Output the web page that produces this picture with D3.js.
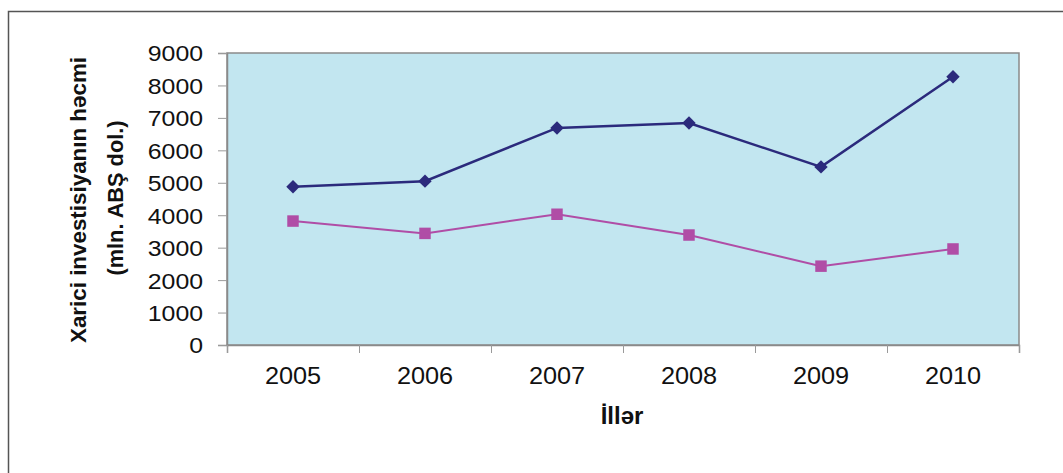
<!DOCTYPE html>
<html>
<head>
<meta charset="utf-8">
<script src="https://cdn.jsdelivr.net/npm/d3@7"></script>
<style>
  body { margin: 0; background: #fff; }
  text { font-family: "Liberation Sans", Arial, sans-serif; fill: #111; }
</style>
</head>
<body>
<div class="chart"></div>
<script>

var years = ["2005", "2006", "2007", "2008", "2009", "2010"];
var seriesTop = [4880, 5050, 6690, 6840, 5490, 8270];
var seriesBottom = [3820, 3440, 4030, 3390, 2430, 2960];
var yTicks = [0, 1000, 2000, 3000, 4000, 5000, 6000, 7000, 8000, 9000];

var svgWidth = 1063;
var svgHeight = 473;

var margin = { top: 53, right: 44, bottom: 128, left: 227 };

var width = svgWidth - margin.left - margin.right;
var height = svgHeight - margin.top - margin.bottom;

var svg = d3.select(".chart")
    .append("svg")
    .attr("width", svgWidth)
    .attr("height", svgHeight);

// outer frame (only top and left visible)
svg.append("rect")
    .attr("x", 8.5)
    .attr("y", 11.5)
    .attr("width", 1200)
    .attr("height", 600)
    .attr("fill", "none")
    .attr("stroke", "#555")
    .attr("stroke-width", 1.5);

var chartGroup = svg.append("g")
    .attr("transform", `translate(${margin.left}, ${margin.top})`);

var xBand = d3.scaleBand()
    .domain(years)
    .range([0, width]);

var xEdge = d3.scaleLinear()
    .domain([0, years.length])
    .range([0, width]);

var yLinearScale = d3.scaleLinear()
    .domain([0, 9000])
    .range([height, 0]);

// plot background
chartGroup.append("rect")
    .attr("width", width)
    .attr("height", height)
    .attr("fill", "#c2e6f0")
    .attr("stroke", "#8a8a8a")
    .attr("stroke-width", 1.5);

// left axis
var leftAxis = chartGroup.append("g")
    .call(d3.axisLeft(yLinearScale).tickValues(yTicks).tickSize(9).tickFormat(d3.format("d")));
leftAxis.select(".domain").attr("stroke", "#8a8a8a").attr("stroke-width", 1.5);
leftAxis.selectAll(".tick line").attr("stroke", "#9a9a9a");
leftAxis.selectAll(".tick text")
    .attr("x", -21.2)
    .attr("dy", "0.36em")
    .attr("transform", "scale(1.13,1)")
    .style("font-size", "22px")
    .style("font-family", "Liberation Sans, Arial, sans-serif")
    .attr("fill", "#111");

// bottom axis: ticks at category edges
var edgeAxis = chartGroup.append("g")
    .attr("transform", `translate(0, ${height})`)
    .call(d3.axisBottom(xEdge).ticks(years.length).tickSize(8).tickFormat(""));
edgeAxis.select(".domain").attr("stroke", "#8a8a8a").attr("stroke-width", 1.5);
edgeAxis.selectAll(".tick line").attr("stroke", "#9a9a9a");

// bottom axis: labels at category centers
var labelAxis = chartGroup.append("g")
    .attr("transform", `translate(0, ${height})`)
    .call(d3.axisBottom(xBand).tickSize(0).tickPadding(23));
labelAxis.select(".domain").remove();
labelAxis.selectAll(".tick text")
    .attr("transform", "scale(1.1,1)")
    .style("font-size", "23px")
    .style("font-family", "Liberation Sans, Arial, sans-serif")
    .attr("fill", "#111");

var line = d3.line()
    .x((d, i) => xBand(years[i]) + xBand.bandwidth() / 2)
    .y(d => yLinearScale(d));

chartGroup.append("path")
    .datum(seriesTop)
    .attr("d", line)
    .attr("fill", "none")
    .attr("stroke", "#2b2a7c")
    .attr("stroke-width", 2.5);

chartGroup.append("path")
    .datum(seriesBottom)
    .attr("d", line)
    .attr("fill", "none")
    .attr("stroke", "#b04da6")
    .attr("stroke-width", 2);

chartGroup.selectAll(".diamond")
    .data(seriesTop)
    .enter()
    .append("path")
    .attr("class", "diamond")
    .attr("d", d3.symbol().type(d3.symbolSquare).size(90))
    .attr("transform", (d, i) => `translate(${xBand(years[i]) + xBand.bandwidth() / 2}, ${yLinearScale(d)}) rotate(45)`)
    .attr("fill", "#2b2a7c");

chartGroup.selectAll(".square")
    .data(seriesBottom)
    .enter()
    .append("path")
    .attr("class", "square")
    .attr("d", d3.symbol().type(d3.symbolSquare).size(132))
    .attr("transform", (d, i) => `translate(${xBand(years[i]) + xBand.bandwidth() / 2}, ${yLinearScale(d)})`)
    .attr("fill", "#b04da6");

// axis titles
svg.append("text")
    .attr("transform", "translate(86, 200) rotate(-90)")
    .attr("text-anchor", "middle")
    .style("font-size", "22px")
    .style("font-weight", "bold")
    .attr("textLength", 286)
    .attr("lengthAdjust", "spacingAndGlyphs")
    .text("Xarici investisiyanın həcmi");

svg.append("text")
    .attr("transform", "translate(123, 198) rotate(-90)")
    .attr("text-anchor", "middle")
    .style("font-size", "22px")
    .style("font-weight", "bold")
    .attr("textLength", 155)
    .attr("lengthAdjust", "spacingAndGlyphs")
    .text("(mln. ABŞ dol.)");

svg.append("text")
    .attr("x", 622)
    .attr("y", 424)
    .attr("text-anchor", "middle")
    .style("font-size", "24px")
    .style("font-weight", "bold")
    .text("İllər");

</script>
</body>
</html>
